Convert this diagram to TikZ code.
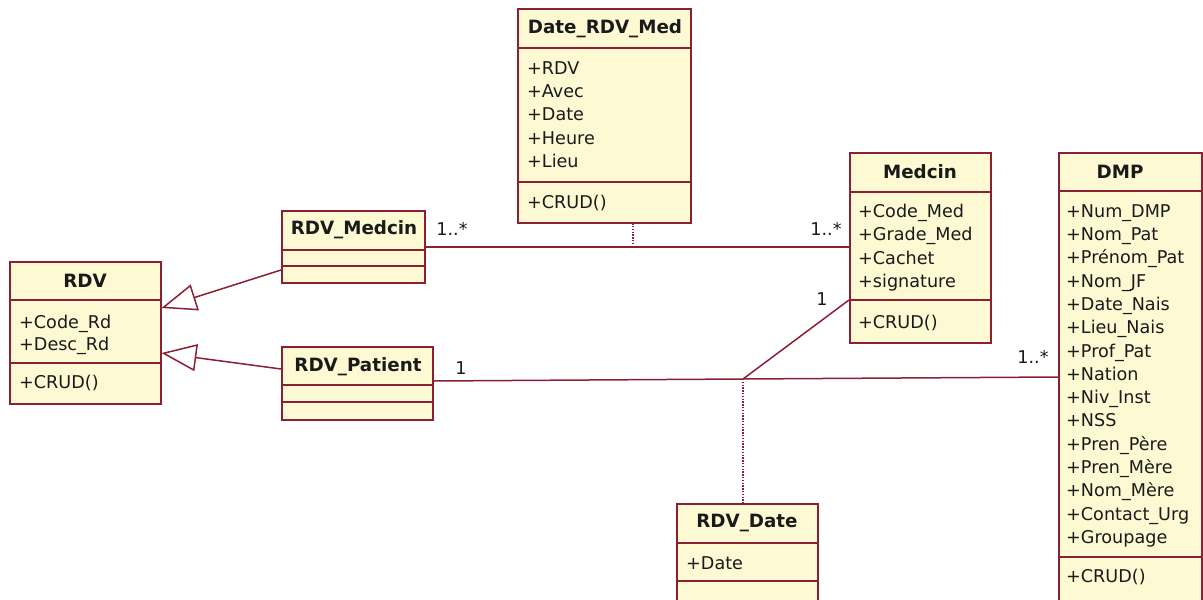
\documentclass[tikz,border=0pt]{standalone}
\usepackage{fontspec}
\setmainfont{DejaVu Sans}
\usetikzlibrary{arrows.meta}
\definecolor{umlfill}{HTML}{FDF9D3}
\definecolor{umlline}{HTML}{8B2035}
\definecolor{umltext}{HTML}{1A1A1A}

\begin{document}
\begin{tikzpicture}[x=1pt,y=-1pt,
  cls/.style={draw=umlline, line width=1.5pt, fill=umlfill, anchor=north west, inner sep=0pt},
  sep/.style={draw=umlline, line width=1.4pt},
  ttl/.style={font=\fontsize{18.3}{20}\selectfont\bfseries, text=umltext, inner sep=0pt},
  attr/.style={font=\fontsize{17.6}{20}\selectfont, text=umltext, anchor=west, inner sep=0pt, text height=12.8pt, text depth=0pt},
  mult/.style={font=\fontsize{17.6}{20}\selectfont, text=umltext, inner sep=0pt},
  assoc/.style={draw=umlline, line width=1.5pt},
  link/.style={draw=umlline, line width=1.4pt, dash pattern=on 1.4pt off 1.4pt},
  gen/.style={draw=umlline, line width=1.5pt, -{Triangle[open, length=35pt, width=27pt, fill=white]}}
]
\useasboundingbox (0,0) rectangle (1203,600);
\fill[white] (0,0) rectangle (1203,600);
\clip (0,0) rectangle (1203,600);

% ---------- RDV ----------
\node[cls, minimum width=151pt, minimum height=142pt] (rdv) at (9,261) {};
\draw[sep] (rdv.west |- 0,300) -- (rdv.east |- 0,300);
\draw[sep] (rdv.west |- 0,363) -- (rdv.east |- 0,363);
\node[ttl] (rdvT) at (85,281) {RDV};
\node[attr] (rdvA1) at (19,322) {+Code\_Rd};
\node[attr] (rdvA2) at (19,344) {+Desc\_Rd};
\node[attr] (rdvO1) at (19,382) {+CRUD()};

% ---------- RDV_Medcin ----------
\node[cls, minimum width=143pt, minimum height=72pt] (rm) at (281,210) {};
\draw[sep] (rm.west |- 0,250) -- (rm.east |- 0,250);
\draw[sep] (rm.west |- 0,266) -- (rm.east |- 0,266);
\node[ttl] (rmT) at (354,230) {RDV\_Medcin};

% ---------- RDV_Patient ----------
\node[cls, minimum width=151pt, minimum height=73pt] (rp) at (281,346) {};
\draw[sep] (rp.west |- 0,385) -- (rp.east |- 0,385);
\draw[sep] (rp.west |- 0,402) -- (rp.east |- 0,402);
\node[ttl] (rpT) at (358,367) {RDV\_Patient};

% ---------- Date_RDV_Med ----------
\node[cls, minimum width=173pt, minimum height=214pt] (drm) at (517,8) {};
\draw[sep] (drm.west |- 0,48) -- (drm.east |- 0,48);
\draw[sep] (drm.west |- 0,182) -- (drm.east |- 0,182);
\node[ttl] (drmT) at (605,29) {Date\_RDV\_Med};
\foreach \t [count=\i] in {+RDV,+Avec,+Date,+Heure,+Lieu}
  \node[attr] (drmA\i) at (527,{68+23.2*(\i-1)}) {\t};
\node[attr] (drmO1) at (527,202) {+CRUD()};

% ---------- Medcin ----------
\node[cls, minimum width=141pt, minimum height=190pt] (med) at (849,152) {};
\draw[sep] (med.west |- 0,192) -- (med.east |- 0,192);
\draw[sep] (med.west |- 0,300) -- (med.east |- 0,300);
\node[ttl] (medT) at (920,172) {Medcin};
\foreach \t [count=\i] in {+Code\_Med,+Grade\_Med,+Cachet,+signature}
  \node[attr] (medA\i) at (858,{211+23.3*(\i-1)}) {\t};
\node[attr] (medO1) at (858,322) {+CRUD()};

% ---------- DMP ----------
\node[cls, minimum width=143pt, minimum height=470pt] (dmp) at (1058,152) {};
\draw[sep] (dmp.west |- 0,191) -- (dmp.east |- 0,191);
\draw[sep] (dmp.west |- 0,557) -- (dmp.east |- 0,557);
\node[ttl] (dmpT) at (1120,172) {DMP};
\foreach \t [count=\i] in {+Num\_DMP,+Nom\_Pat,+Prénom\_Pat,+Nom\_JF,+Date\_Nais,+Lieu\_Nais,+Prof\_Pat,+Nation,+Niv\_Inst,+NSS,+Pren\_Père,+Pren\_Mère,+Nom\_Mère,+Contact\_Urg,+Groupage}
  \node[attr] (dmpA\i) at (1066,{211+23.28*(\i-1)}) {\t};
\node[attr] (dmpO1) at (1066,576) {+CRUD()};

% ---------- RDV_Date ----------
\node[cls, minimum width=141pt, minimum height=120pt] (rd) at (676,503) {};
\draw[sep] (rd.west |- 0,543) -- (rd.east |- 0,543);
\draw[sep] (rd.west |- 0,581) -- (rd.east |- 0,581);
\node[ttl] (rdT) at (747,523) {RDV\_Date};
\node[attr] (rdA1) at (686,563) {+Date};

% ---------- inheritance ----------
\draw[gen] (rm.west |- 0,270) -- (rdv.east |- 0,308);
\draw[gen] (rp.west |- 0,369) -- (rdv.east |- 0,353);

% ---------- RDV_Medcin -- Medcin with association class ----------
\coordinate (mid1) at (633,247);
\draw[assoc] (rm.east |- mid1) -- (med.west |- mid1);
\draw[link] (mid1) -- (drm.south -| mid1);
\node[mult] (m1) at (452,229) {1..*};
\node[mult] (m2) at (826,229) {1..*};

% ---------- ternary association ----------
\coordinate (jn) at (743,379);
\draw[assoc] (rp.east |- 0,381) -- (jn) -- (dmp.west |- 0,377);
\draw[assoc] (jn) -- (med.west |- 0,300);
\draw[link] (jn) -- (rd.north -| jn);
\node[mult] (m3) at (461,368) {1};
\node[mult] (m4) at (822,299) {1};
\node[mult] (m5) at (1033,357) {1..*};
\end{tikzpicture}
\end{document}
